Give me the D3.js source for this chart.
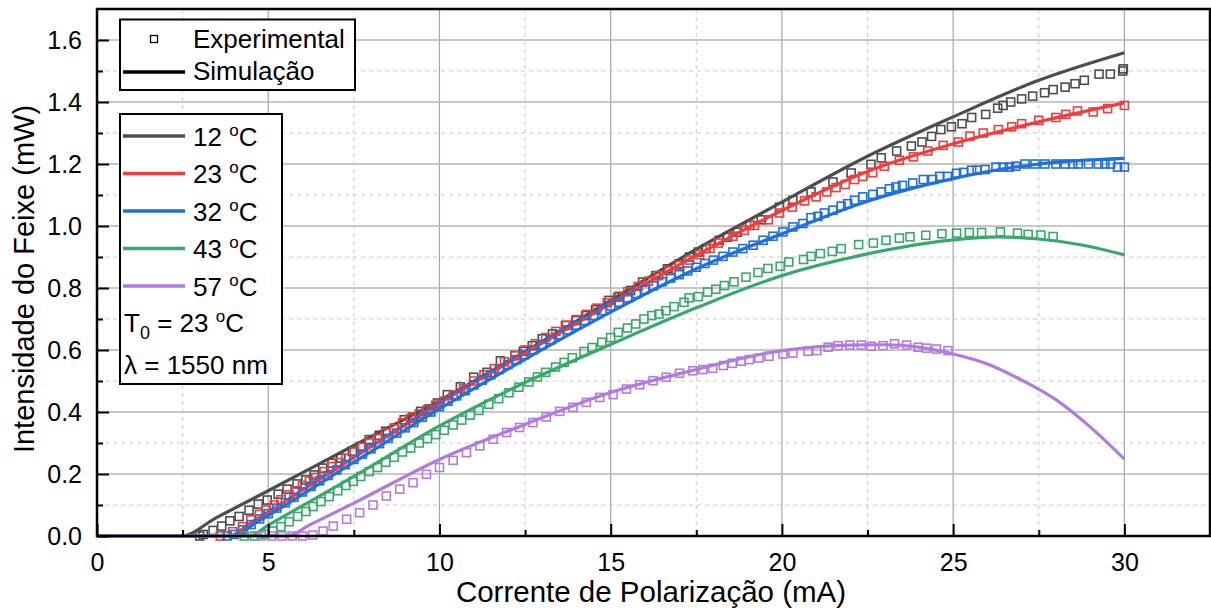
<!DOCTYPE html>
<html>
<head>
<meta charset="utf-8">
<script src="https://d3js.org/d3.v7.min.js"></script>
<style>
  body { margin: 0; background: #fff; }
  text { font-family: "Liberation Sans", Arial, sans-serif; fill: #000; }
</style>
</head>
<body>
<div id="chart"></div>
<script>
// simulation curves (current mA, power mW)
var simI12 = [0, 2.45, 3.5, 5, 7.5, 10, 12.5, 15, 17.5, 20, 22.5, 25, 27.5, 30];
var simP12 = [0, 0, 0.06, 0.146, 0.292, 0.437, 0.595, 0.76, 0.925, 1.077, 1.225, 1.352, 1.47, 1.559];
var simI23 = [0, 3.85, 4.5, 5, 7.5, 10, 12.5, 15, 17.5, 20, 22.5, 25, 27.5, 30];
var simP23 = [0, 0, 0.044, 0.078, 0.253, 0.428, 0.59, 0.75, 0.905, 1.05, 1.176, 1.265, 1.336, 1.397];
var simI32 = [0, 4.0, 4.6, 5, 7.5, 10, 12.5, 15, 17.5, 20, 22.5, 25, 27.5, 30];
var simP32 = [0, 0, 0.04, 0.066, 0.238, 0.41, 0.57, 0.722, 0.862, 0.975, 1.08, 1.153, 1.2, 1.218];
var simI43 = [0, 4.45, 5, 7.5, 10, 12.5, 15, 17.5, 20, 22.5, 25, 26.3, 27.5, 28.8, 30];
var simP43 = [0, 0, 0.035, 0.192, 0.355, 0.495, 0.618, 0.736, 0.84, 0.91, 0.955, 0.965, 0.958, 0.938, 0.907];
var simI57 = [0, 5.55, 6.2, 7.5, 10, 12.5, 15, 17.5, 20, 22, 23, 24, 25, 26, 27, 28, 29, 30];
var simP57 = [0, 0, 0.035, 0.106, 0.247, 0.36, 0.463, 0.537, 0.598, 0.616, 0.617, 0.609, 0.587, 0.555, 0.503, 0.44, 0.352, 0.248];

// experimental points
var expI12 = [3.0, 3.1, 3.39, 3.64, 3.88, 4.15, 4.44, 4.71, 4.97, 5.29, 5.55, 5.84, 6.1, 6.34, 6.59, 6.86, 7.12, 7.46, 7.7, 7.95, 8.24, 8.43, 8.68, 8.97, 9.21, 9.45, 9.7, 9.94, 10.23, 10.61, 11.0, 11.39, 11.78, 12.2, 12.45, 12.71, 13.0, 13.3, 13.68, 13.98, 14.27, 14.56, 14.95, 15.24, 15.58, 15.93, 16.32, 16.66, 17.0, 17.3, 17.56, 17.78, 18.17, 18.41, 18.7, 19.06, 19.4, 19.93, 20.32, 20.85, 21.49, 22.02, 22.6, 22.9, 23.35, 23.78, 24.09, 24.37, 24.64, 24.95, 25.26, 25.54, 25.95, 26.3, 26.46, 26.68, 27.0, 27.32, 27.67, 27.92, 28.27, 28.56, 28.83, 29.26, 29.59, 29.95, 29.97];
var expP12 = [0, 0.005, 0.018, 0.032, 0.049, 0.063, 0.083, 0.103, 0.116, 0.135, 0.151, 0.168, 0.181, 0.197, 0.219, 0.235, 0.251, 0.273, 0.289, 0.311, 0.325, 0.338, 0.348, 0.375, 0.383, 0.402, 0.41, 0.429, 0.456, 0.481, 0.512, 0.528, 0.565, 0.582, 0.596, 0.614, 0.636, 0.652, 0.679, 0.695, 0.711, 0.73, 0.76, 0.773, 0.792, 0.819, 0.84, 0.862, 0.878, 0.9, 0.916, 0.927, 0.954, 0.964, 0.98, 1.002, 1.02, 1.061, 1.083, 1.11, 1.142, 1.171, 1.199, 1.22, 1.242, 1.258, 1.271, 1.289, 1.311, 1.32, 1.33, 1.35, 1.36, 1.38, 1.389, 1.40, 1.41, 1.419, 1.43, 1.44, 1.448, 1.459, 1.47, 1.49, 1.49, 1.50, 1.507];
var expI23 = [3.6, 3.96, 4.25, 4.49, 4.74, 4.93, 5.18, 5.37, 5.61, 5.81, 6.0, 6.2, 6.39, 6.63, 6.86, 7.07, 7.27, 7.51, 7.75, 7.95, 8.19, 8.43, 8.68, 8.92, 9.16, 9.41, 9.65, 9.89, 10.14, 10.4, 10.7, 11.0, 11.3, 11.6, 11.9, 12.2, 12.5, 12.8, 13.1, 13.4, 13.7, 14.0, 14.3, 14.6, 14.9, 15.2, 15.5, 15.8, 16.1, 16.4, 16.7, 17.0, 17.3, 17.6, 17.9, 18.14, 18.57, 18.9, 19.2, 19.6, 19.93, 20.3, 20.66, 21.0, 21.31, 21.58, 21.85, 22.12, 22.36, 22.65, 22.99, 23.43, 23.84, 24.26, 24.71, 25.15, 25.49, 25.88, 26.32, 26.71, 27.0, 27.5, 28.0, 28.29, 28.63, 29.09, 29.51, 30.0];
var expP23 = [0, 0.014, 0.03, 0.052, 0.07, 0.084, 0.1, 0.117, 0.133, 0.146, 0.163, 0.176, 0.189, 0.208, 0.224, 0.237, 0.251, 0.271, 0.286, 0.3, 0.314, 0.332, 0.346, 0.365, 0.379, 0.394, 0.408, 0.422, 0.435, 0.455, 0.475, 0.5, 0.52, 0.54, 0.562, 0.582, 0.6, 0.62, 0.64, 0.66, 0.68, 0.698, 0.715, 0.735, 0.752, 0.77, 0.788, 0.805, 0.822, 0.84, 0.856, 0.873, 0.89, 0.908, 0.928, 0.945, 0.967, 0.986, 1.002, 1.02, 1.042, 1.061, 1.081, 1.094, 1.11, 1.124, 1.134, 1.15, 1.16, 1.172, 1.193, 1.212, 1.223, 1.242, 1.26, 1.271, 1.29, 1.30, 1.311, 1.32, 1.33, 1.341, 1.35, 1.36, 1.371, 1.368, 1.379, 1.389];
var expI32 = [3.8, 4.0, 4.25, 4.5, 4.75, 5.0, 5.25, 5.5, 5.75, 6.0, 6.25, 6.5, 6.75, 7.0, 7.25, 7.5, 7.75, 8.0, 8.25, 8.5, 8.75, 9.0, 9.25, 9.5, 9.75, 10.0, 10.25, 10.5, 10.75, 11.0, 11.25, 11.5, 11.75, 12.0, 12.25, 12.5, 12.75, 13.0, 13.25, 13.5, 13.75, 14.0, 14.25, 14.5, 14.75, 15.0, 15.25, 15.5, 15.75, 16.0, 16.25, 16.5, 16.75, 17.0, 17.25, 17.5, 17.75, 18.0, 18.28, 18.57, 18.86, 19.16, 19.45, 19.74, 20.03, 20.32, 20.61, 20.85, 21.05, 21.24, 21.49, 21.73, 21.92, 22.12, 22.36, 22.65, 22.9, 23.14, 23.33, 23.52, 23.82, 24.13, 24.4, 24.61, 24.83, 25.1, 25.3, 25.54, 25.7, 25.93, 26.25, 26.46, 26.64, 26.83, 27.1, 27.39, 27.68, 28.0, 28.27, 28.49, 28.65, 28.95, 29.24, 29.43, 29.6, 29.8, 30.0];
var expP32 = [0, 0.005, 0.02, 0.037, 0.055, 0.072, 0.09, 0.107, 0.125, 0.142, 0.16, 0.178, 0.195, 0.213, 0.23, 0.247, 0.264, 0.281, 0.298, 0.315, 0.332, 0.349, 0.366, 0.383, 0.4, 0.417, 0.435, 0.452, 0.469, 0.487, 0.503, 0.52, 0.537, 0.553, 0.569, 0.585, 0.601, 0.617, 0.633, 0.649, 0.665, 0.68, 0.695, 0.711, 0.727, 0.742, 0.754, 0.768, 0.782, 0.795, 0.807, 0.82, 0.832, 0.843, 0.855, 0.867, 0.879, 0.89, 0.902, 0.916, 0.927, 0.938, 0.954, 0.967, 0.981, 0.997, 1.008, 1.027, 1.031, 1.042, 1.051, 1.064, 1.072, 1.083, 1.094, 1.102, 1.11, 1.12, 1.126, 1.131, 1.139, 1.15, 1.15, 1.16, 1.16, 1.17, 1.173, 1.18, 1.18, 1.182, 1.19, 1.19, 1.19, 1.193, 1.2, 1.2, 1.2, 1.2, 1.2, 1.2, 1.2, 1.2, 1.2, 1.2, 1.2, 1.19, 1.19];
var expI43 = [4.3, 4.6, 4.9, 5.13, 5.37, 5.61, 5.86, 6.1, 6.31, 6.54, 6.78, 7.03, 7.27, 7.48, 7.7, 7.95, 8.19, 8.43, 8.68, 8.92, 9.16, 9.41, 9.65, 9.89, 10.14, 10.4, 10.65, 10.9, 11.15, 11.44, 11.73, 12.03, 12.32, 12.61, 12.86, 13.1, 13.39, 13.64, 13.88, 14.22, 14.46, 14.74, 15.0, 15.22, 15.49, 15.73, 15.97, 16.2, 16.41, 16.61, 16.85, 17.14, 17.29, 17.56, 17.83, 18.07, 18.32, 18.6, 18.95, 19.3, 19.59, 19.95, 20.2, 20.63, 20.85, 21.12, 21.47, 21.73, 22.24, 22.67, 23.04, 23.43, 23.74, 24.2, 24.67, 25.1, 25.47, 25.83, 26.38, 26.88, 27.19, 27.56, 27.92];
var expP43 = [0, 0, 0.006, 0.016, 0.03, 0.046, 0.063, 0.079, 0.095, 0.111, 0.127, 0.146, 0.163, 0.176, 0.192, 0.208, 0.221, 0.238, 0.254, 0.271, 0.284, 0.3, 0.314, 0.327, 0.341, 0.358, 0.374, 0.39, 0.405, 0.425, 0.443, 0.462, 0.48, 0.497, 0.513, 0.528, 0.545, 0.56, 0.575, 0.595, 0.608, 0.625, 0.64, 0.657, 0.671, 0.684, 0.7, 0.711, 0.716, 0.727, 0.74, 0.754, 0.768, 0.772, 0.787, 0.796, 0.808, 0.82, 0.835, 0.85, 0.863, 0.87, 0.884, 0.892, 0.902, 0.911, 0.918, 0.927, 0.94, 0.945, 0.954, 0.961, 0.965, 0.97, 0.975, 0.977, 0.979, 0.979, 0.981, 0.977, 0.973, 0.971, 0.966];
var expI57 = [4.8, 5.1, 5.4, 5.7, 6.0, 6.3, 6.6, 6.9, 7.29, 7.67, 8.06, 8.45, 8.84, 9.23, 9.62, 10.0, 10.4, 10.79, 11.18, 11.57, 11.96, 12.34, 12.73, 13.12, 13.51, 13.9, 14.29, 14.68, 15.07, 15.46, 15.85, 16.24, 16.62, 17.01, 17.4, 17.69, 17.98, 18.29, 18.55, 18.81, 19.05, 19.33, 19.62, 20.03, 20.32, 20.76, 21.02, 21.35, 21.64, 21.98, 22.32, 22.61, 22.95, 23.29, 23.64, 23.98, 24.22, 24.51, 24.85];
var expP57 = [0, 0, 0, 0, 0, 0.003, 0.016, 0.032, 0.054, 0.075, 0.1, 0.129, 0.151, 0.172, 0.199, 0.221, 0.244, 0.269, 0.291, 0.312, 0.334, 0.35, 0.366, 0.384, 0.402, 0.415, 0.431, 0.447, 0.456, 0.474, 0.488, 0.501, 0.512, 0.525, 0.533, 0.537, 0.541, 0.55, 0.557, 0.564, 0.569, 0.574, 0.58, 0.587, 0.59, 0.596, 0.598, 0.609, 0.614, 0.616, 0.616, 0.612, 0.614, 0.62, 0.616, 0.609, 0.606, 0.603, 0.598];

var temps = ["12", "23", "32", "43", "57"];
var colors = ["#4d4d4d", "#f03c3c", "#1f6fdc", "#3aa86a", "#b27ae0"];
var xTicks = [0, 5, 10, 15, 20, 25, 30];
var xMinor = [2.5, 7.5, 12.5, 17.5, 22.5, 27.5];
var yTicks = [0, 0.2, 0.4, 0.6, 0.8, 1.0, 1.2, 1.4, 1.6];
var yMinor = [0.1, 0.3, 0.5, 0.7, 0.9, 1.1, 1.3, 1.5];

var simI = [simI12, simI23, simI32, simI43, simI57];
var simP = [simP12, simP23, simP32, simP43, simP57];
var expI = [expI12, expI23, expI32, expI43, expI57];
var expP = [expP12, expP23, expP32, expP43, expP57];

var W = 1211, H = 612;
var m = {left: 97, top: 9, right: 1, bottom: 76};
var w = W - m.left - m.right, h = H - m.top - m.bottom;

var svg = d3.select("#chart").append("svg").attr("width", W).attr("height", H);
var g = svg.append("g").attr("transform", "translate(" + m.left + "," + m.top + ")");

var x = d3.scaleLinear().domain([0, 32.5]).range([0, w]);
var y = d3.scaleLinear().domain([0, 1.7]).range([h, 0]);

// grid
g.selectAll(".vmin").data(xMinor).enter().append("line")
  .attr("x1", d => x(d)).attr("x2", d => x(d)).attr("y1", 0).attr("y2", h)
  .attr("stroke", "#c8c8c8").attr("stroke-width", 1).attr("stroke-dasharray", "4,4");
g.selectAll(".hmin").data(yMinor).enter().append("line")
  .attr("x1", 0).attr("x2", w).attr("y1", d => y(d)).attr("y2", d => y(d))
  .attr("stroke", "#c8c8c8").attr("stroke-width", 1).attr("stroke-dasharray", "4,4");
g.selectAll(".vmaj").data(xTicks.slice(1)).enter().append("line")
  .attr("x1", d => x(d)).attr("x2", d => x(d)).attr("y1", 0).attr("y2", h)
  .attr("stroke", "#a6a6a6").attr("stroke-width", 1.2);
g.selectAll(".hmaj").data(yTicks.slice(1)).enter().append("line")
  .attr("x1", 0).attr("x2", w).attr("y1", d => y(d)).attr("y2", d => y(d))
  .attr("stroke", "#b4b4b4").attr("stroke-width", 1.3);

// data
var line = d3.line().x(d => x(d[0])).y(d => y(d[1])).curve(d3.curveMonotoneX);
var sq = 8;
temps.forEach(function(t, i) {
  var ser = g.append("g");
  var pts = expI[i].map((v, k) => [v, expP[i][k]]);
  ser.selectAll("rect").data(pts).enter().append("rect")
    .attr("x", d => x(d[0]) - sq / 2).attr("y", d => y(d[1]) - sq / 2)
    .attr("width", sq).attr("height", sq)
    .attr("fill", "none").attr("stroke", colors[i]).attr("stroke-width", 1.6);
  var sp = simI[i].map((v, k) => [v, simP[i][k]]);
  ser.append("path").datum(sp).attr("d", line)
    .attr("fill", "none").attr("stroke", colors[i]).attr("stroke-width", 3.2);
});

// axes
var ax = g.append("g").attr("transform", "translate(0," + h + ")")
  .call(d3.axisBottom(x).tickValues(xTicks).tickSizeInner(-12).tickSizeOuter(0).tickPadding(17).tickFormat(d3.format("d")));
var axm = g.append("g").attr("transform", "translate(0," + h + ")")
  .call(d3.axisBottom(x).tickValues(xMinor).tickSizeInner(-6).tickSizeOuter(0).tickFormat(""));
var ay = g.append("g")
  .call(d3.axisLeft(y).tickValues(yTicks).tickSizeInner(-12).tickSizeOuter(0).tickPadding(15).tickFormat(d3.format(".1f")));
var aym = g.append("g")
  .call(d3.axisLeft(y).tickValues(yMinor).tickSizeInner(-6).tickSizeOuter(0).tickFormat(""));
[ax, axm, ay, aym].forEach(function(a) {
  a.select(".domain").remove();
  a.selectAll("line").attr("stroke", "#000").attr("stroke-width", 2);
  a.selectAll("text").style("font-family", "'Liberation Sans', Arial, sans-serif").style("font-size", "25px").attr("fill", "#000");
});

// frame
g.append("rect").attr("x", 0).attr("y", 0).attr("width", w).attr("height", h)
  .attr("fill", "none").attr("stroke", "#000").attr("stroke-width", 2.5);

// axis titles
svg.append("text").attr("x", 651).attr("y", 602).attr("text-anchor", "middle")
  .style("font-size", "29.5px").text("Corrente de Polarização (mA)");
svg.append("text").attr("transform", "translate(34,279) rotate(-90)").attr("text-anchor", "middle")
  .style("font-size", "29px").text("Intensidade do Feixe (mW)");

// legend 1
var fs = "26px";
svg.append("rect").attr("x", 120).attr("y", 19.5).attr("width", 235).attr("height", 70.5)
  .attr("fill", "#fff").attr("stroke", "#000").attr("stroke-width", 2);
svg.append("rect").attr("x", 150.5).attr("y", 35.5).attr("width", 7).attr("height", 7)
  .attr("fill", "none").attr("stroke", "#000").attr("stroke-width", 1.3);
svg.append("text").attr("x", 193).attr("y", 48).style("font-size", fs).text("Experimental");
svg.append("line").attr("x1", 123).attr("x2", 185).attr("y1", 72).attr("y2", 72)
  .attr("stroke", "#000").attr("stroke-width", 3.5);
svg.append("text").attr("x", 193).attr("y", 80).style("font-size", fs).text("Simulação");

// legend 2
svg.append("rect").attr("x", 120).attr("y", 114).attr("width", 162).attr("height", 270)
  .attr("fill", "#fff").attr("stroke", "#000").attr("stroke-width", 2);
var ly = [136, 173.5, 211, 248.5, 286];
temps.forEach(function(t, i) {
  svg.append("line").attr("x1", 123).attr("x2", 185).attr("y1", ly[i]).attr("y2", ly[i])
    .attr("stroke", colors[i]).attr("stroke-width", 3.5);
  var tx = svg.append("text").attr("x", 193).attr("y", ly[i] + 9.5).style("font-size", fs);
  tx.append("tspan").text(t + " ");
  tx.append("tspan").attr("dy", -10).style("font-size", "17px").text("o");
  tx.append("tspan").attr("dy", 10).text("C");
});
var t0 = svg.append("text").attr("x", 124).attr("y", 332).style("font-size", fs);
t0.append("tspan").text("T");
t0.append("tspan").attr("dy", 7).style("font-size", "18px").text("0");
t0.append("tspan").attr("dy", -7).text(" = 23 ");
t0.append("tspan").attr("dy", -10).style("font-size", "17px").text("o");
t0.append("tspan").attr("dy", 10).text("C");
svg.append("text").attr("x", 124).attr("y", 374).style("font-size", fs).text("λ = 1550 nm");
</script>
</body>
</html>
